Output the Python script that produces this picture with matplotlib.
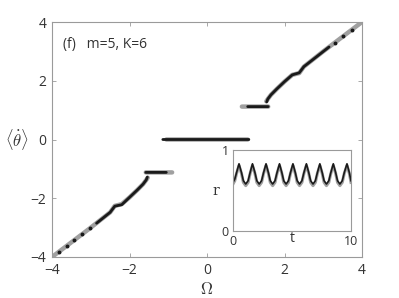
import matplotlib
matplotlib.use("Agg")
import matplotlib.pyplot as plt
import numpy as np

plt.rcParams['font.family'] = ['Open Sans', 'DejaVu Sans']
plt.rcParams['mathtext.fontset'] = 'cm'

# ---- main data: <theta_dot> vs Omega (grey = one sweep, black = the other)
grey_w = [-4.0, -3.0, -2.5, -2.38, -2.2, -2.0, -1.8, -1.65, -1.57, -1.53, np.nan,
          -1.58, -1.3, -0.9, np.nan,
          -1.05, 0.0, 1.05, np.nan,
          0.9, 1.3, 1.58, np.nan,
          1.53, 1.57, 1.65, 1.8, 2.0, 2.2, 2.38, 2.5, 3.0, 4.0]
grey_v = [-4.0, -3.0, -2.48, -2.26, -2.2, -1.97, -1.72, -1.52, -1.38, -1.3, np.nan,
          -1.12, -1.12, -1.12, np.nan,
          0.0, 0.0, 0.0, np.nan,
          1.12, 1.12, 1.12, np.nan,
          1.3, 1.38, 1.52, 1.72, 1.97, 2.2, 2.26, 2.48, 3.0, 4.0]

black_w = [-2.85, -2.5, -2.38, -2.2, -2.0, -1.8, -1.65, -1.57, -1.54, np.nan,
           -1.58, -1.3, -1.05, np.nan,
           -1.14, 0.0, 1.08, np.nan,
           1.05, 1.3, 1.58, np.nan,
           1.54, 1.57, 1.65, 1.8, 2.0, 2.2, 2.38, 2.5, 3.15]
black_v = [-2.85, -2.48, -2.27, -2.22, -1.97, -1.72, -1.52, -1.38, -1.28, np.nan,
           -1.12, -1.12, -1.12, np.nan,
           0.0, 0.0, 0.0, np.nan,
           1.12, 1.12, 1.12, np.nan,
           1.28, 1.38, 1.52, 1.72, 1.97, 2.2, 2.27, 2.48, 3.15]

dots_w = [-3.82, -3.62, -3.42, -3.22, -3.02, 3.3, 3.52, 3.74]
dots_v = [-3.82, -3.62, -3.42, -3.22, -3.02, 3.3, 3.52, 3.74]

# ---- inset data: r vs t
t_vals = [0.0, 0.15, 0.3, 0.51, 0.72, 0.88, 1.08, 1.28, 1.45, 1.65, 1.86, 2.02, 2.22,
          2.42, 2.59, 2.8, 3.0, 3.16, 3.36, 3.56, 3.73, 3.94, 4.14, 4.3, 4.5, 4.7,
          4.87, 5.08, 5.28, 5.44, 5.64, 5.84, 6.01, 6.22, 6.42, 6.58, 6.78, 6.98,
          7.15, 7.36, 7.56, 7.72, 7.92, 8.12, 8.29, 8.5, 8.7, 8.86, 9.06, 9.26,
          9.43, 9.66, 9.86, 10.0]
r_black = [0.6, 0.64, 0.72, 0.83, 0.72, 0.62, 0.58, 0.62, 0.72, 0.83, 0.72, 0.62,
           0.58, 0.62, 0.72, 0.83, 0.72, 0.62, 0.58, 0.62, 0.72, 0.83, 0.72, 0.62,
           0.58, 0.62, 0.72, 0.83, 0.72, 0.62, 0.58, 0.62, 0.72, 0.83, 0.72, 0.62,
           0.58, 0.62, 0.72, 0.83, 0.72, 0.62, 0.58, 0.62, 0.72, 0.83, 0.72, 0.62,
           0.58, 0.62, 0.72, 0.83, 0.72, 0.62]
r_grey = [0.58, 0.62, 0.71, 0.81, 0.71, 0.6, 0.56, 0.6, 0.71, 0.81, 0.71, 0.6,
          0.56, 0.6, 0.71, 0.81, 0.71, 0.6, 0.56, 0.6, 0.71, 0.81, 0.71, 0.6,
          0.56, 0.6, 0.71, 0.81, 0.71, 0.6, 0.56, 0.6, 0.71, 0.81, 0.71, 0.6,
          0.56, 0.6, 0.71, 0.81, 0.71, 0.6, 0.56, 0.6, 0.71, 0.81, 0.71, 0.6,
          0.56, 0.6, 0.71, 0.81, 0.71, 0.6]

GREY = "#a0a0a0"
BLACK = "#1a1a1a"
AX = "#9a9a9a"
TXT = "#333333"

fig = plt.figure(figsize=(3.99, 2.98), dpi=100)
ax = fig.add_axes([52/399, 1 - 257/298, 310/399, 235/298])

ax.plot(grey_w, grey_v, color=GREY, lw=3.2, solid_capstyle='round')
ax.plot(black_w, black_v, color=BLACK, lw=2.0, solid_capstyle='round')
ax.plot(dots_w, dots_v, ls='none', marker='o', ms=1.8, color=BLACK)

ax.set_xlim(-4, 4)
ax.set_ylim(-4, 4)
ax.set_xticks([-4, -2, 0, 2, 4])
ax.set_yticks([-4, -2, 0, 2, 4])
ax.tick_params(direction='in', length=3, width=0.6, color=AX, labelcolor=TXT,
               labelsize=10, top=True, right=True, pad=4)
for s in ax.spines.values():
    s.set_color(AX)
    s.set_linewidth(0.8)

ax.set_xlabel(r'$\Omega$', fontsize=12, color=TXT, labelpad=3)
ax.set_ylabel(r'$\langle\dot{\theta}\rangle$', fontsize=12, color=TXT, rotation=0,
              labelpad=10, va='center')
ax.text(0.035, 0.89, "(f)   m=5, K=6", transform=ax.transAxes, fontsize=10, color=TXT)

# inset
ins = fig.add_axes([233/399, 1 - 231/298, 118/399, 81/298])
ins.plot(t_vals, r_grey, color=GREY, lw=2.2)
ins.plot(t_vals, r_black, color=BLACK, lw=1.2)
ins.set_xlim(0, 10)
ins.set_ylim(0, 1)
ins.set_xticks([0, 10])
ins.set_yticks([0, 1])
ins.tick_params(direction='in', length=0, labelcolor=TXT, labelsize=9, pad=3)
for s in ins.spines.values():
    s.set_color(AX)
    s.set_linewidth(0.8)
ins.set_xlabel('t', fontsize=10, color=TXT, labelpad=-12)
ins.set_ylabel('r', fontsize=10, color=TXT, rotation=0, labelpad=4, va='center',
               family='DejaVu Serif')

fig.savefig("out.png", dpi=100)
